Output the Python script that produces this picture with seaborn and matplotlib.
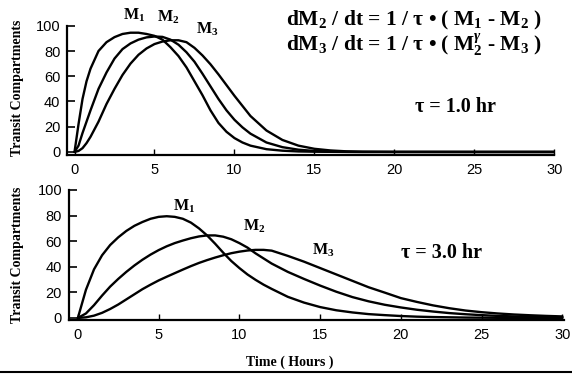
import matplotlib
matplotlib.use("Agg")
import matplotlib.pyplot as plt
from matplotlib.lines import Line2D
import seaborn as sns
import pandas as pd

# tau = 1.0 hr panel
time_fast = [0, 0.25, 0.5, 0.75, 1, 1.5, 2, 2.5, 3, 3.5, 4, 4.5, 5, 5.5, 6, 6.5, 7, 7.5,
             8, 8.5, 9, 9.5, 10, 10.5, 11, 12, 13, 14, 15, 16, 17, 18, 20, 25, 30]
m1_fast = [0, 22, 42, 56, 66, 80, 87, 91, 93.5, 94.5, 94.5, 93.5, 92, 89, 83, 76, 67, 56,
           45, 33, 23, 16, 11, 7.5, 5, 2.2, 1, 0.4, 0.2, 0.1, 0, 0, 0, 0, 0]
m2_fast = [0, 5, 15, 24, 33, 50, 63, 74, 81.5, 86, 89, 90.8, 91.5, 91.2, 89, 85, 79, 71.5,
           62, 52, 42, 33, 25.5, 19.5, 14.5, 7.5, 3.8, 1.8, 0.8, 0.3, 0.1, 0, 0, 0, 0]
m3_fast = [0, 0.8, 3, 7, 12, 24, 38, 50, 61, 70, 77, 82, 85.5, 87.5, 88.5, 88.5, 87, 82.5,
           76.5, 69.5, 61.5, 53, 44.5, 36.5, 28.5, 17, 9.5, 5, 2.5, 1.2, 0.5, 0.2, 0.05, 0, 0]

# tau = 3.0 hr panel
time_slow = [0, 0.5, 1, 1.5, 2, 2.5, 3, 3.5, 4, 4.5, 5, 5.5, 6, 6.5, 7, 7.5, 8, 8.5, 9,
             9.5, 10, 10.5, 11, 11.5, 12, 13, 14, 15, 16, 17, 18, 19, 20, 21, 22, 23, 24,
             25, 26, 27, 28, 29, 30]
m1_slow = [0, 22, 38, 49, 57, 63, 68, 72, 75, 77.5, 79, 79.5, 79, 77.5, 74.5, 70, 64.5, 58,
           51, 44.5, 39, 34, 29.8, 26, 22.7, 16.5, 12, 8.5, 6, 4.3, 3, 2.2, 1.5, 1, 0.7,
           0.5, 0.3, 0.2, 0.1, 0.1, 0, 0, 0]
m2_slow = [0, 3.5, 10, 17.5, 24.5, 30.5, 36, 41, 45.5, 49.5, 53, 56, 58.5, 60.5, 62.3, 63.7,
           64.5, 64.5, 63.5, 61.5, 58.5, 55, 50.5, 46.5, 42.5, 36, 30.5, 25.3, 20.5, 16.3,
           13, 10.3, 8.2, 6.4, 5, 3.8, 2.9, 2.2, 1.6, 1.2, 0.9, 0.6, 0.5]
m3_slow = [0, 0.5, 1.8, 4, 7, 10.5, 14.5, 18.5, 22.5, 26, 29.3, 32.2, 35, 37.8, 40.5, 43,
           45.2, 47.2, 49, 50.6, 51.8, 52.7, 53.2, 53.2, 52.6, 48.5, 44, 39, 34, 29, 24,
           19.8, 15.5, 12.5, 9.8, 7.6, 5.8, 4.5, 3.5, 2.7, 2.1, 1.6, 1.2]

y_ticks = [0, 20, 40, 60, 80, 100]
x_ticks = [0, 5, 10, 15, 20, 25, 30]


def long_form(t, m1, m2, m3):
    n = len(t)
    return pd.DataFrame({
        "time": t * 3,
        "value": m1 + m2 + m3,
        "compartment": ["M1"] * n + ["M2"] * n + ["M3"] * n,
    })


sns.set_style("ticks")
plt.rcParams["font.family"] = ["Liberation Sans", "DejaVu Sans"]
plt.rcParams["text.color"] = "black"
plt.rcParams["mathtext.fontset"] = "custom"
plt.rcParams["mathtext.rm"] = "Liberation Serif:bold"
plt.rcParams["mathtext.bf"] = "Liberation Serif:bold"
plt.rcParams["mathtext.it"] = "Liberation Serif:italic:bold"

serif = dict(family=["Liberation Serif", "DejaVu Serif"], fontweight="bold", color="black")

fig = plt.figure(figsize=(5.72, 3.74), dpi=100)
ax_top = fig.add_axes([0.1177, 0.5856, 0.8514, 0.3455])
ax_bot = fig.add_axes([0.1206, 0.1444, 0.8654, 0.3476])

panels = [
    (ax_top, long_form(time_fast, m1_fast, m2_fast, m3_fast), (-0.45, 30), (-2.4, 100)),
    (ax_bot, long_form(time_slow, m1_slow, m2_slow, m3_slow), (-0.55, 30.1), (-1.6, 100)),
]
for ax, df, xl, yl in panels:
    sns.lineplot(data=df, x="time", y="value", hue="compartment",
                 palette=["black"] * 3, linewidth=1.7, legend=False,
                 estimator=None, ax=ax)
    ax.set_xlim(*xl)
    ax.set_ylim(*yl)
    ax.set_xticks(x_ticks)
    ax.set_yticks(y_ticks)
    ax.set_xlabel("")
    ax.set_ylabel("")
    sns.despine(ax=ax)
    ax.spines["left"].set_bounds(yl[0], 100)
    for s in ("left", "bottom"):
        ax.spines[s].set_linewidth(1.6)
        ax.spines[s].set_color("black")
    ax.tick_params(axis="y", direction="in", length=5.5, width=1.2, pad=5,
                   labelsize=10.5, colors="black")
    ax.tick_params(axis="x", direction="in", length=4.5, width=1.0, pad=6,
                   labelsize=10.5, colors="black")

# curve labels
ax_top.text(3.7, 108, "M$_1$", ha="center", va="center", fontsize=11.5, **serif)
ax_top.text(5.85, 107, "M$_2$", ha="center", va="center", fontsize=11.5, **serif)
ax_top.text(8.3, 97.5, "M$_3$", ha="center", va="center", fontsize=11.5, **serif)
ax_top.text(23.8, 35.5, "τ = 1.0 hr", ha="center", va="center", fontsize=14.5, **serif)

ax_bot.text(6.6, 87.5, "M$_1$", ha="center", va="center", fontsize=11.5, **serif)
ax_bot.text(10.9, 72, "M$_2$", ha="center", va="center", fontsize=11.5, **serif)
ax_bot.text(15.2, 53, "M$_3$", ha="center", va="center", fontsize=11.5, **serif)
ax_bot.text(22.5, 50.5, "τ = 3.0 hr", ha="center", va="center", fontsize=14.5, **serif)

# model equations
fig.text(0.5, 0.944, "dM$_2$ / dt = 1 / τ • ( M$_1$ - M$_2$ )",
         ha="left", va="center", fontsize=15.5, **serif)
fig.text(0.5, 0.880, "dM$_3$ / dt = 1 / τ • ( M$_2^{\\gamma}$ - M$_3$ )",
         ha="left", va="center", fontsize=15.5, **serif)

# axis titles
fig.text(17.5 / 572, 1 - 88 / 374, "Transit Compartments", rotation=90,
         ha="center", va="center", fontsize=10, **serif)
fig.text(17.5 / 572, 1 - 255 / 374, "Transit Compartments", rotation=90,
         ha="center", va="center", fontsize=10, **serif)
fig.text(290 / 572, 1 - 362 / 374, "Time ( Hours )",
         ha="center", va="center", fontsize=10, **serif)

# bottom border of the original figure
fig.add_artist(Line2D([0, 1], [2 / 374, 2 / 374], color="black", linewidth=1.5,
                      transform=fig.transFigure))

fig.savefig("out.png", dpi=100)
